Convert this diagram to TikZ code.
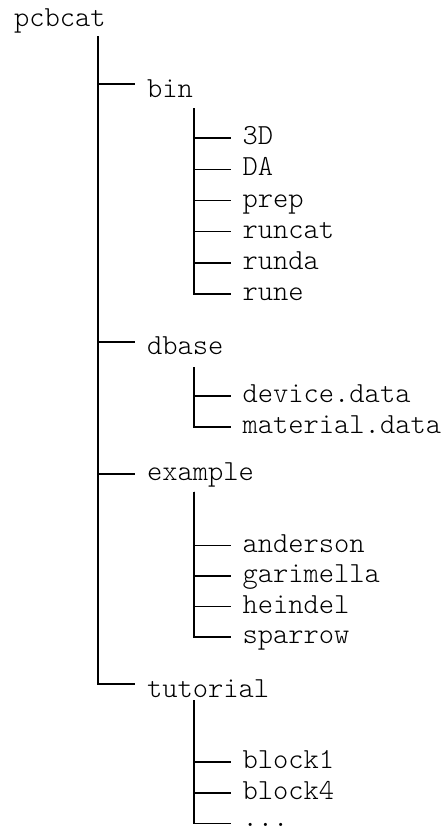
\documentclass[tikz,border=0pt]{standalone}
\usepackage{fontspec}
\newfontfamily\treefont{Latin Modern Mono Light}
\begin{document}
\begin{tikzpicture}[x=1pt,y=-1pt,
  entry/.style={anchor=base west,inner sep=0pt,outer sep=0pt,font=\treefont\fontsize{29.1}{34}\selectfont},
  tree/.style={line width=1.7pt,black}]
\useasboundingbox (0,0) rectangle (445,830);
% root
\node[entry] (root) at (14,26) {pcbcat};
\coordinate (v0) at (98,36);
% level 1
\node[entry] (bin) at (147,97) {bin};
\node[entry] (dbase) at (147,354) {dbase};
\node[entry] (example) at (147,480) {example};
\node[entry] (tutorial) at (147,697) {tutorial};
\draw[tree] (v0) |- ([xshift=-12pt,yshift=12.7pt]bin.base west);
\draw[tree] (v0) |- ([xshift=-12pt,yshift=12pt]dbase.base west);
\draw[tree] (v0) |- ([xshift=-12pt,yshift=5.7pt]example.base west);
\draw[tree] (v0) |- ([xshift=-12pt,yshift=13pt]tutorial.base west);
% bin children
\coordinate (vbin) at (194,108.3);
\node[entry] (b1) at (242.5,144.8) {3D};
\node[entry] (b2) at (242.5,175.9) {DA};
\node[entry] (b3) at (242.5,207) {prep};
\node[entry] (b4) at (242.5,238.1) {runcat};
\node[entry] (b5) at (242.5,269.2) {runda};
\node[entry] (b6) at (242.5,300.3) {rune};
\foreach \n in {b1,b2,b3,b4,b5,b6}
  \draw[tree] (vbin) |- ([xshift=-11.5pt,yshift=6.5pt]\n.base west);
% dbase children
\coordinate (vdb) at (194,367);
\node[entry] (d1) at (242.5,402.3) {device.data};
\node[entry] (d2) at (242.5,433.4) {material.data};
\foreach \n in {d1,d2}
  \draw[tree] (vdb) |- ([xshift=-11.5pt,yshift=6.5pt]\n.base west);
% example children
\coordinate (vex) at (194,491.7);
\node[entry] (e1) at (242.5,552) {anderson};
\node[entry] (e2) at (242.5,582.5) {garimella};
\node[entry] (e3) at (242.5,613) {heindel};
\node[entry] (e4) at (242.5,643.5) {sparrow};
\foreach \n in {e1,e2,e3,e4}
  \draw[tree] (vex) |- ([xshift=-11.5pt,yshift=6.5pt]\n.base west);
% tutorial children
\coordinate (vtu) at (194,700);
\node[entry] (t1) at (242.5,768.2) {block1};
\node[entry] (t2) at (242.5,799.2) {block4};
\node[entry] (t3) at (242.5,826) {...};
\foreach \n in {t1,t2}
  \draw[tree] (vtu) |- ([xshift=-11.5pt,yshift=6.5pt]\n.base west);
\draw[tree] (vtu) |- ([xshift=-11.5pt,yshift=2.5pt]t3.base west);
\end{tikzpicture}
\end{document}
